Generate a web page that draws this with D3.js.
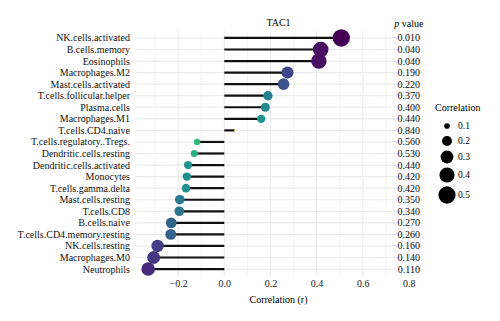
<!DOCTYPE html>
<html>
<head>
<meta charset="utf-8">
<script src="https://cdn.jsdelivr.net/npm/d3@7"></script>
<style>
  body { margin: 0; background: #fff; }
  svg text { font-family: "Liberation Serif", "Times New Roman", "DejaVu Serif", serif; }
</style>
</head>
<body>
<div id="chart"></div>
<script>
// Immune cell types, top to bottom
const cells = [
  "NK.cells.activated", "B.cells.memory", "Eosinophils", "Macrophages.M2",
  "Mast.cells.activated", "T.cells.follicular.helper", "Plasma.cells",
  "Macrophages.M1", "T.cells.CD4.naive", "T.cells.regulatory..Tregs.",
  "Dendritic.cells.resting", "Dendritic.cells.activated", "Monocytes",
  "T.cells.gamma.delta", "Mast.cells.resting", "T.cells.CD8", "B.cells.naive",
  "T.cells.CD4.memory.resting", "NK.cells.resting", "Macrophages.M0", "Neutrophils"
];

// Correlation with TAC1
const corr = [
  0.507, 0.418, 0.410, 0.274, 0.257, 0.189, 0.178, 0.160, 0.045, -0.118,
  -0.130, -0.157, -0.162, -0.166, -0.193, -0.195, -0.230, -0.232, -0.289,
  -0.306, -0.330
];

const pvals = [
  0.010, 0.040, 0.040, 0.190, 0.220, 0.370, 0.400, 0.440, 0.840, 0.560,
  0.530, 0.440, 0.420, 0.420, 0.350, 0.340, 0.270, 0.260, 0.160, 0.140, 0.110
];

const xTicks = [-0.2, 0, 0.2, 0.4, 0.6, 0.8];
const xMinor = [-0.3, -0.1, 0.1, 0.3, 0.5, 0.7];
const sizeBreaks = [0.1, 0.2, 0.3, 0.4, 0.5];

const data = cells.map((c, i) => ({cell: c, r: corr[i], p: pvals[i]}));

const FONT = "'Liberation Serif', 'Times New Roman', 'DejaVu Serif', serif";
const FS = 10;
const width = 500, height = 321;
const margin = {top: 31, right: 78, bottom: 45, left: 135};

const svg = d3.select("#chart").append("svg")
  .attr("width", width)
  .attr("height", height)
  .attr("font-family", FONT);

const x = d3.scaleLinear()
  .domain([-0.387, 0.857])
  .range([margin.left, width - margin.right]);

const y = d3.scalePoint()
  .domain(cells)
  .range([margin.top, height - margin.bottom])
  .padding(0.6);

const color = d3.scaleSequential(d3.interpolateViridis)
  .domain(d3.extent(pvals));

// point size: area grows with |r|
const absExtent = d3.extent(corr, d => Math.abs(d));
const t = d3.scaleLinear().domain(absExtent).range([0, 1]);
const radius = v => Math.max(0.7, -0.3 + 9.0 * Math.sqrt(Math.max(0, t(v))));

// grid
const grid = svg.append("g");
grid.selectAll(".minor").data(xMinor).enter().append("line")
  .attr("x1", d => x(d)).attr("x2", d => x(d))
  .attr("y1", margin.top).attr("y2", height - margin.bottom)
  .attr("stroke", "#f2f2f2").attr("stroke-width", 0.8);
grid.selectAll(".major").data(xTicks).enter().append("line")
  .attr("x1", d => x(d)).attr("x2", d => x(d))
  .attr("y1", margin.top).attr("y2", height - margin.bottom)
  .attr("stroke", "#ebebeb").attr("stroke-width", 1.2);
grid.selectAll(".hline").data(cells).enter().append("line")
  .attr("x1", margin.left).attr("x2", width - margin.right)
  .attr("y1", d => y(d)).attr("y2", d => y(d))
  .attr("stroke", "#ebebeb").attr("stroke-width", 1.2);

// lollipop sticks
svg.selectAll(".stick").data(data).enter().append("line")
  .attr("x1", x(0)).attr("x2", d => x(d.r))
  .attr("y1", d => y(d.cell)).attr("y2", d => y(d.cell))
  .attr("stroke", "#111").attr("stroke-width", 2.2);

// heads
svg.selectAll(".dot").data(data).enter().append("circle")
  .attr("cx", d => x(d.r))
  .attr("cy", d => y(d.cell))
  .attr("r", d => radius(Math.abs(d.r)))
  .attr("fill", d => color(d.p));

// p value column
svg.selectAll(".pv").data(data).enter().append("text")
  .attr("x", x(0.8))
  .attr("y", d => y(d.cell))
  .attr("dy", "0.35em")
  .attr("text-anchor", "middle")
  .attr("font-size", FS)
  .attr("fill", "#111")
  .text(d => d.p.toFixed(3));

const pHead = svg.append("text")
  .attr("x", x(0.8)).attr("y", 23)
  .attr("dy", "0.35em")
  .attr("text-anchor", "middle")
  .attr("font-size", FS);
pHead.append("tspan").attr("font-style", "italic").text("p");
pHead.append("tspan").text(" value");

// title
svg.append("text")
  .attr("x", (margin.left + width - margin.right) / 2).attr("y", 22)
  .attr("dy", "0.35em")
  .attr("text-anchor", "middle")
  .attr("font-size", FS)
  .text("TAC1");

// y labels
svg.selectAll(".ylab").data(cells).enter().append("text")
  .attr("x", margin.left - 5)
  .attr("y", d => y(d))
  .attr("dy", "0.35em")
  .attr("text-anchor", "end")
  .attr("font-size", FS)
  .attr("fill", "#111")
  .text(d => d);

// x axis
const xAxis = svg.append("g")
  .attr("transform", `translate(0,${height - margin.bottom})`)
  .call(d3.axisBottom(x).tickValues(xTicks).tickSize(0).tickPadding(4)
    .tickFormat(d => d3.format(".1f")(d).replace("-", "\u2212")));
xAxis.attr("font-family", FONT);
xAxis.select(".domain").remove();
xAxis.selectAll("text")
  .attr("font-size", FS)
  .attr("fill", "#222");

svg.append("text")
  .attr("x", (margin.left + width - margin.right) / 2).attr("y", 299)
  .attr("dy", "0.35em")
  .attr("text-anchor", "middle")
  .attr("font-size", FS)
  .text("Correlation (r)");

// size legend
const legend = svg.append("g");
legend.append("text")
  .attr("x", 435).attr("y", 107)
  .attr("dy", "0.35em")
  .attr("font-size", FS)
  .text("Correlation");
const legY = [126, 141, 157, 175, 195];
const items = legend.selectAll(".item").data(sizeBreaks).enter().append("g")
  .attr("transform", (d, i) => `translate(447,${legY[i]})`);
items.append("circle")
  .attr("r", d => radius(d))
  .attr("fill", "#000");
items.append("text")
  .attr("x", 11)
  .attr("dy", "0.35em")
  .attr("font-size", 9.5)
  .text(d => d.toFixed(1));
</script>
</body>
</html>
